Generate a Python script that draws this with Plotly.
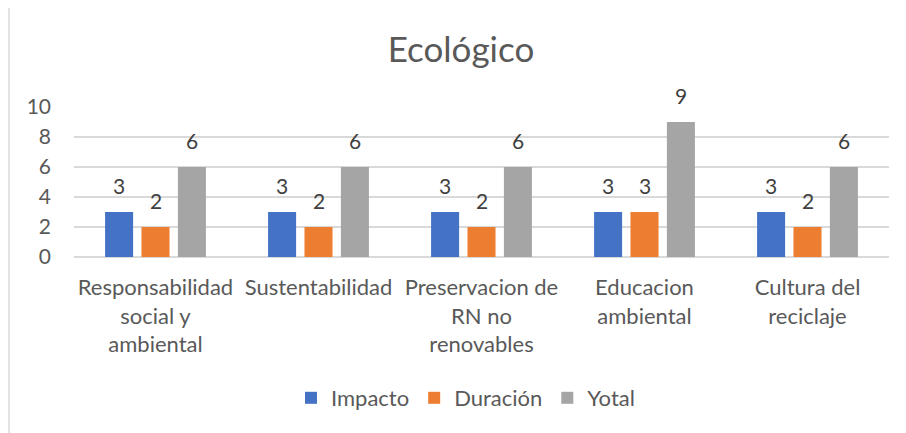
import plotly.graph_objects as go

categories = ["Responsabilidad<br>social y<br>ambiental", "Sustentabilidad",
              "Preservacion de<br>RN no<br>renovables", "Educacion<br>ambiental",
              "Cultura del<br>reciclaje"]
impacto = [3, 3, 3, 3, 3]
duracion = [2, 2, 2, 3, 2]
yotal = [6, 6, 6, 9, 6]
series_names = ["Impacto", "Duración", "Yotal"]
colors = ["#4472C4", "#ED7D31", "#A5A5A5"]
ytick_vals = [0, 2, 4, 6, 8, 10]

FONT = "Lato"
W, H = 906, 433
OFF = 8  # page body margin offset
# target plot area in window pixels: x 74..889, y 107..257
ML = 74 - OFF
MT = 107 - OFF
MR = W - (889 - OFF)
MB = H - (257 - OFF)
BARGAP, GROUPGAP = 0.33, 0.23
plot_w = W - ML - MR
plot_h = H - MT - MB
cat_w = plot_w / len(categories)
slot = cat_w * (1 - BARGAP) / len(series_names)

fig = go.Figure()
all_vals = [impacto, duracion, yotal]
for j, (name, vals, col) in enumerate(zip(series_names, all_vals, colors)):
    fig.add_trace(go.Bar(
        x=categories, y=vals, name=name, marker_color=col,
        marker_line_width=0,
    ))
    for cat, v in zip(categories, vals):
        fig.add_annotation(
            x=cat, y=v, text=str(v), showarrow=False,
            xref="x", yref="y", yanchor="bottom",
            xshift=(j - 1) * slot, yshift=12,
            font=dict(size=21, color="#404040", family=FONT),
        )

fig.update_layout(
    width=W, height=H,
    margin=dict(l=ML, r=MR, t=MT, b=MB, autoexpand=False),
    paper_bgcolor="white", plot_bgcolor="white",
    barmode="group", bargap=BARGAP, bargroupgap=GROUPGAP,
    font=dict(family=FONT, color="#595959"),
    title=dict(text="Ecológico", x=(461 - OFF) / W, xanchor="center",
               y=1 - (50 - OFF) / H, yanchor="middle",
               yref="container", xref="container",
               font=dict(size=35, color="#595959", family=FONT)),
    legend=dict(orientation="h", x=0.5 - 16 / plot_w, xanchor="center",
                y=-(398 - 257) / plot_h, yanchor="middle",
                font=dict(size=22, color="#595959", family=FONT),
                itemwidth=30, traceorder="normal"),
    showlegend=True,
)
fig.update_xaxes(showgrid=False, showline=False, ticks="", automargin=False,
                 tickfont=dict(size=22, color="#595959", family=FONT),
                 ticklabelstandoff=15)
fig.update_yaxes(range=[0, 10], tickvals=ytick_vals, showgrid=True, gridcolor="#D9D9D9",
                 gridwidth=1.5, zeroline=True, zerolinecolor="#D9D9D9", zerolinewidth=1.5,
                 showline=False, ticks="", automargin=False,
                 tickfont=dict(size=21, color="#595959", family=FONT), ticklabelstandoff=22)
fig.add_shape(type="rect", xref="paper", yref="paper",
              x0=(9 - 74) / plot_w, x1=(940 - 74) / plot_w,
              y0=(257 - 470) / plot_h, y1=(257 - 7) / plot_h,
              line=dict(color="#D9D9D9", width=1.5), fillcolor="rgba(0,0,0,0)", layer="below")

fig.write_html("out.html")
